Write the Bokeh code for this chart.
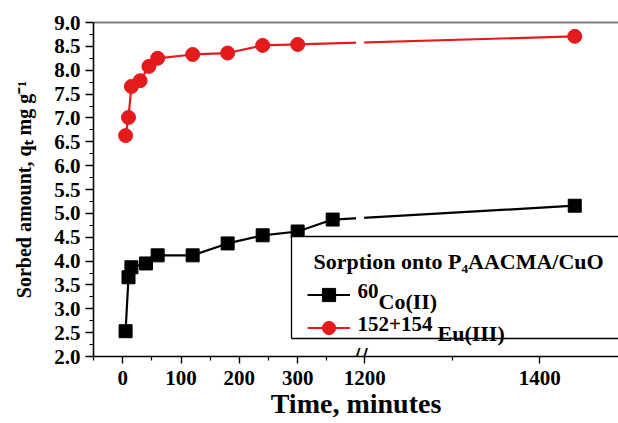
from bokeh.plotting import figure
from bokeh.models import (Range1d, LinearAxis, FixedTicker, Legend, LegendItem,
                          Label, BoxAnnotation)
from bokeh.embed import file_html
from bokeh.resources import INLINE

# ---------------- data ----------------
time_co = [5, 10, 15, 40, 60, 120, 180, 240, 300, 360, 1440]
q_co = [2.53, 3.66, 3.87, 3.95, 4.12, 4.12, 4.37, 4.54, 4.62, 4.87, 5.16]

time_eu = [5, 10, 15, 30, 45, 60, 120, 180, 240, 300, 1440]
q_eu = [6.63, 7.01, 7.66, 7.78, 8.08, 8.25, 8.33, 8.36, 8.52, 8.54, 8.71]

x_ticks = [0, 100, 200, 300, 1200, 1400]
x_tick_labels = ["0", "100", "200", "300", "1200", "1400"]
x_minor = [-50, 50, 150, 250, 350, 1300]

y_ticks = [2.0, 2.5, 3.0, 3.5, 4.0, 4.5, 5.0, 5.5, 6.0, 6.5, 7.0, 7.5, 8.0, 8.5, 9.0]
y_tick_labels = ["2.0", "2.5", "3.0", "3.5", "4.0", "4.5", "5.0", "5.5",
                 "6.0", "6.5", "7.0", "7.5", "8.0", "8.5", "9.0"]

legend_title = "Sorption onto P\u2084AACMA/CuO"
co_sup, co_base = "60", "Co(II)"
eu_sup, eu_base = "152+154", "Eu(III)"

# ---------------- broken x axis ----------------
SEG1_END = 400
GAP = 15
SEG2_START = 1200
SCALE2 = 1.5
X_MIN, X_MAX = -50, 1490


def to_t(x):
    return x if x <= SEG1_END else SEG1_END + GAP + (x - SEG2_START) * SCALE2


RED = "#e41a1c"
FONT = "Liberation Serif"

FL, FT = 93, 22            # left / top border on the canvas
FW, FH = 525, 334          # frame size
BB = 67                    # bottom border
T0, T1 = to_t(X_MIN), to_t(X_MAX)
Y0, Y1 = 2.0, 9.0


def x_at(px):   # canvas pixel -> data
    return T0 + (px - FL) * (T1 - T0) / FW


def y_at(py):
    return Y1 - (py - FT) * (Y1 - Y0) / FH


p = figure(frame_width=FW, frame_height=FH,
           x_range=Range1d(T0, T1), y_range=Range1d(Y0, Y1),
           output_backend="svg", toolbar_location=None,
           min_border_left=FL, min_border_right=0, min_border_top=FT,
           min_border_bottom=BB)
p.grid.visible = False
p.outline_line_color = None
p.background_fill_color = "white"
p.border_fill_color = "white"

xa = p.below[0]
ya = p.left[0]

xa.ticker = FixedTicker(ticks=[to_t(v) for v in x_ticks],
                        minor_ticks=[to_t(v) for v in x_minor])
xa.major_label_overrides = {to_t(v): lab for v, lab in zip(x_ticks, x_tick_labels)}
xa.axis_label = "Time, minutes"

ya.ticker = FixedTicker(ticks=y_ticks, minor_ticks=[v + 0.25 for v in y_ticks[:-1]])
ya.major_label_overrides = {v: lab for v, lab in zip(y_ticks, y_tick_labels)}
ya.axis_label = "Sorbed amount, q\u209c mg g\u207b\u00b9"

for ax in (xa, ya):
    ax.axis_line_color = "black"
    ax.axis_line_width = 1.6
    ax.major_tick_line_color = "black"
    ax.major_tick_line_width = 1.4
    ax.minor_tick_line_color = "black"
    ax.minor_tick_line_width = 1.2
    ax.major_tick_in = 0
    ax.minor_tick_in = 0
    ax.major_tick_out = 7
    ax.minor_tick_out = 4
    ax.major_label_text_font = FONT
    ax.major_label_text_font_style = "bold"
    ax.major_label_text_color = "black"
    ax.axis_label_text_font = FONT
    ax.axis_label_text_font_style = "bold"
    ax.axis_label_text_color = "black"

xa.major_label_text_font_size = "21px"
xa.major_label_standoff = 7
xa.axis_label_text_font_size = "28px"
xa.axis_label_standoff = 0

ya.major_tick_out = 8
ya.major_label_text_font_size = "21px"
ya.major_label_standoff = 5
ya.axis_label_text_font_size = "20px"
ya.axis_label_standoff = 16

# top frame line
top = LinearAxis(ticker=FixedTicker(ticks=[]), axis_line_color="#7f7f7f",
                 axis_line_width=2, major_tick_out=0, major_tick_in=0,
                 minor_tick_out=0, minor_tick_in=0,
                 major_label_text_font_size="0px", major_label_standoff=0)
p.add_layout(top, "above")

# ---------------- series ----------------
t_co = [to_t(v) for v in time_co]
t_eu = [to_t(v) for v in time_eu]

co_line = p.line(t_co, q_co, line_color="black", line_width=2.2)
eu_line = p.line(t_eu, q_eu, line_color=RED, line_width=2.2)

# gap of the lines at the axis break
p.quad(left=[SEG1_END], right=[SEG1_END + GAP - 1], bottom=[Y0], top=[Y1],
       fill_color="white", line_color=None)

co_sc = p.scatter(t_co, q_co, marker="square", size=13, fill_color="black",
                  line_color="black")
eu_sc = p.scatter(t_eu, q_eu, marker="circle", size=14, fill_color=RED,
                  line_color=RED)

# axis-break mark
p.add_layout(Label(x=SEG1_END + GAP / 2, y=Y0, text="//", text_align="center",
                   text_baseline="middle", text_font="DejaVu Sans",
                   text_font_style="normal", text_font_size="22px",
                   text_color="black"))

# ---------------- legend ----------------
LB_L, LB_T, LB_B, LW = 291, 236, 338, 1.3
p.add_layout(BoxAnnotation(left=x_at(LB_L), right=x_at(700), top=y_at(LB_T),
                           bottom=y_at(LB_B), fill_color="white", fill_alpha=1,
                           line_color=None))
for l, r, t, b in [(LB_L, 700, LB_T - LW / 2, LB_T + LW / 2),
                   (LB_L, 700, LB_B - LW / 2, LB_B + LW / 2),
                   (LB_L - LW / 2, LB_L + LW / 2, LB_T, LB_B)]:
    p.add_layout(BoxAnnotation(left=x_at(l), right=x_at(r), top=y_at(t),
                               bottom=y_at(b), fill_color="black", fill_alpha=1,
                               line_color=None))

legend = Legend(items=[LegendItem(label=" ", renderers=[co_line, co_sc]),
                       LegendItem(label=" ", renderers=[eu_line, eu_sc])],
                location=(307 - FL, (FT + FH) - 344),
                glyph_width=43, glyph_height=33, label_height=33, spacing=0,
                padding=0, margin=0, label_standoff=0, label_width=1,
                border_line_color=None, background_fill_alpha=0)
p.add_layout(legend, "center")


def lab(px, py, text, size):
    p.add_layout(Label(x=x_at(px), y=y_at(py), text=text, text_font=FONT,
                       text_font_style="bold", text_font_size=size,
                       text_color="black", text_align="left",
                       text_baseline="alphabetic"))


lab(313, 261, legend_title, "22px")
lab(357, 290, co_sup, "21px")
lab(378, 301, co_base, "22px")
lab(357, 323, eu_sup, "21px")
lab(437, 333, eu_base, "22px")

open("out.html", "w").write(file_html(p, INLINE))
